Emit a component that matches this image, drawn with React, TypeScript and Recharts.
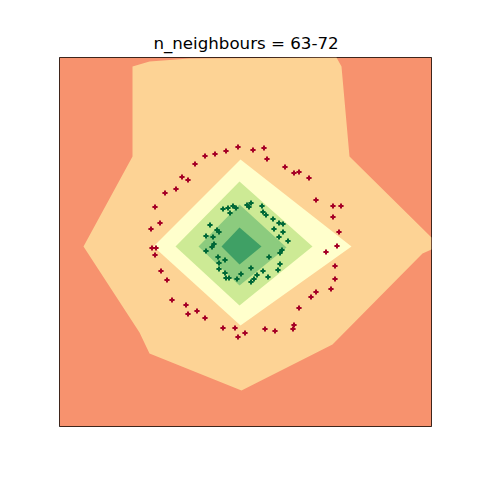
import React from 'react';
import { ScatterChart, Scatter, XAxis, YAxis, ReferenceArea } from 'recharts';

type Pt = { x: number; y: number };

const TITLE = 'n_neighbours = 63-72';
const X_DOMAIN: [number, number] = [-1.8, 1.92];
const Y_DOMAIN: [number, number] = [-1.82, 1.87];

// contour regions (outermost first)
const regionBackground: Pt[] = [
  { x: -1.8, y: -1.82 }, { x: 1.92, y: -1.82 }, { x: 1.92, y: 1.87 }, { x: -1.8, y: 1.87 },
];
const regionOrange: Pt[] = [
  { x: -1.07, y: 1.78 }, { x: -0.9, y: 1.83 }, { x: -0.5, y: 1.86 }, { x: 0.97, y: 1.87 },
  { x: 1.02, y: 1.78 }, { x: 1.1, y: 0.88 }, { x: 1.92, y: 0.07 }, { x: 1.92, y: -0.05 },
  { x: 1.83, y: -0.09 }, { x: 0.93, y: -1.0 }, { x: 0.02, y: -1.46 }, { x: -0.9, y: -1.09 },
  { x: -1.0, y: -0.88 }, { x: -1.56, y: -0.02 }, { x: -1.07, y: 0.88 },
];
const regionYellow: Pt[] = [
  { x: 0.01, y: 0.85 }, { x: 1.12, y: -0.02 }, { x: 0.01, y: -0.81 }, { x: -0.86, y: -0.02 },
];
const regionLightGreen: Pt[] = [
  { x: 0.0, y: 0.63 }, { x: 0.73, y: -0.02 }, { x: 0.0, y: -0.61 }, { x: -0.64, y: -0.02 },
];
const regionMidGreen: Pt[] = [
  { x: 0.0, y: 0.4 }, { x: 0.47, y: -0.03 }, { x: 0.0, y: -0.41 }, { x: -0.41, y: -0.02 },
];
const regionDarkGreen: Pt[] = [
  { x: 0.0, y: 0.17 }, { x: 0.22, y: -0.02 }, { x: 0.0, y: -0.2 }, { x: -0.18, y: -0.02 },
];

const outerClass: Pt[] = [
  { x: -0.02, y: 0.98 }, { x: 0.13, y: 0.95 }, { x: 0.24, y: 0.97 }, { x: 0.27, y: 0.86 },
  { x: -0.14, y: 0.94 }, { x: -0.25, y: 0.91 }, { x: -0.35, y: 0.89 }, { x: -0.45, y: 0.81 },
  { x: -0.58, y: 0.68 }, { x: -0.52, y: 0.65 }, { x: -0.64, y: 0.56 }, { x: -0.75, y: 0.52 },
  { x: -0.85, y: 0.38 }, { x: -0.8, y: 0.22 }, { x: -0.89, y: 0.16 }, { x: -0.88, y: -0.03 },
  { x: -0.84, y: -0.03 }, { x: -0.85, y: -0.1 }, { x: -0.79, y: -0.26 }, { x: -0.73, y: -0.35 },
  { x: -0.68, y: -0.55 }, { x: -0.54, y: -0.6 }, { x: -0.52, y: -0.69 }, { x: -0.43, y: -0.66 },
  { x: -0.35, y: -0.73 }, { x: -0.17, y: -0.83 }, { x: -0.05, y: -0.83 }, { x: -0.02, y: -0.92 },
  { x: 0.05, y: -0.88 }, { x: 0.25, y: -0.84 }, { x: 0.35, y: -0.86 }, { x: 0.53, y: -0.84 },
  { x: 0.54, y: -0.8 }, { x: 0.59, y: -0.63 }, { x: 0.71, y: -0.52 }, { x: 0.76, y: -0.47 },
  { x: 0.91, y: -0.44 }, { x: 0.95, y: -0.34 }, { x: 0.95, y: -0.21 }, { x: 0.97, y: -0.01 },
  { x: 0.86, y: -0.07 }, { x: 0.99, y: 0.13 }, { x: 0.93, y: 0.28 }, { x: 0.93, y: 0.39 },
  { x: 1.01, y: 0.39 }, { x: 0.76, y: 0.45 }, { x: 0.69, y: 0.67 }, { x: 0.59, y: 0.73 },
  { x: 0.54, y: 0.72 }, { x: 0.45, y: 0.78 },
];

const innerClass: Pt[] = [
  { x: -0.17, y: 0.36 }, { x: -0.12, y: 0.37 }, { x: -0.1, y: 0.32 }, { x: -0.07, y: 0.39 },
  { x: -0.04, y: 0.37 }, { x: 0.07, y: 0.4 }, { x: 0.11, y: 0.42 }, { x: 0.09, y: 0.38 },
  { x: 0.22, y: 0.39 }, { x: 0.23, y: 0.33 }, { x: 0.26, y: 0.3 }, { x: 0.33, y: 0.25 },
  { x: 0.39, y: 0.22 }, { x: 0.43, y: 0.21 }, { x: 0.34, y: 0.16 }, { x: 0.43, y: 0.13 },
  { x: 0.39, y: 0.08 }, { x: 0.48, y: 0.04 }, { x: -0.3, y: 0.2 }, { x: -0.23, y: 0.15 },
  { x: -0.21, y: 0.13 }, { x: -0.34, y: 0.09 }, { x: -0.27, y: 0.08 }, { x: -0.26, y: 0.01 },
  { x: -0.28, y: -0.02 }, { x: -0.34, y: -0.06 }, { x: 0.42, y: -0.05 }, { x: 0.4, y: -0.08 },
  { x: 0.29, y: -0.12 }, { x: -0.22, y: -0.12 }, { x: -0.15, y: -0.15 }, { x: -0.21, y: -0.18 },
  { x: 0.4, y: -0.19 }, { x: 0.11, y: -0.23 }, { x: -0.21, y: -0.24 }, { x: 0.23, y: -0.26 },
  { x: 0.38, y: -0.25 }, { x: 0.01, y: -0.29 }, { x: -0.15, y: -0.28 }, { x: -0.11, y: -0.33 },
  { x: -0.14, y: -0.33 }, { x: -0.03, y: -0.34 }, { x: 0.17, y: -0.3 }, { x: 0.14, y: -0.34 },
  { x: 0.12, y: -0.37 }, { x: 0.28, y: -0.32 },
];

const regions: { data: Pt[]; color: string }[] = [
  { data: regionBackground, color: '#f7926e' },
  { data: regionOrange, color: '#fdd395' },
  { data: regionYellow, color: '#ffffcc' },
  { data: regionLightGreen, color: '#cdea95' },
  { data: regionMidGreen, color: '#8ccb7e' },
  { data: regionDarkGreen, color: '#3fa065' },
];

const NoDot = () => <g />;

const Plus = (props: any) => {
  const { cx, cy, fill } = props;
  if (cx == null || cy == null) return <g />;
  const x = Math.round(cx);
  const y = Math.round(cy);
  const a = 2.6;
  const t = 1.0;
  const d = `M${x - a},${y - t}H${x - t}V${y - a}H${x + t}V${y - t}H${x + a}V${y + t}H${x + t}V${y + a}H${x - t}V${y + t}H${x - a}Z`;
  return <path d={d} fill={fill} stroke="none" />;
};

export default function App() {
  return (
    <div style={{ position: 'absolute', left: 0, top: 0, width: 480, height: 480, background: '#fff' }}>
      <div
        style={{
          position: 'absolute', left: 60, top: 36, width: 372, textAlign: 'center',
          fontFamily: '"DejaVu Sans", sans-serif', fontSize: '16.67px', lineHeight: '16.67px', color: '#000',
          whiteSpace: 'nowrap',
        }}
      >
        {TITLE}
      </div>
      <ScatterChart width={480} height={480} margin={{ top: 57.5, right: 48.5, bottom: 53.5, left: 59.5 }}>
        <XAxis type="number" dataKey="x" domain={X_DOMAIN} hide allowDataOverflow />
        <YAxis type="number" dataKey="y" domain={Y_DOMAIN} hide allowDataOverflow />
        {regions.map((r, i) => (
          <Scatter
            key={`region-${i}`}
            data={r.data}
            fill={r.color}
            shape={NoDot}
            line={{ fill: r.color, stroke: 'none' }}
            lineType="joint"
            isAnimationActive={false}
          />
        ))}
        <Scatter data={outerClass} fill="#a50026" shape={Plus} isAnimationActive={false} />
        <Scatter data={innerClass} fill="#006837" shape={Plus} isAnimationActive={false} />
        <ReferenceArea
          x1={X_DOMAIN[0]} x2={X_DOMAIN[1]} y1={Y_DOMAIN[0]} y2={Y_DOMAIN[1]}
          fill="none" stroke="#000" strokeWidth={1} fillOpacity={0} strokeOpacity={1}
        />
      </ScatterChart>
    </div>
  );
}
